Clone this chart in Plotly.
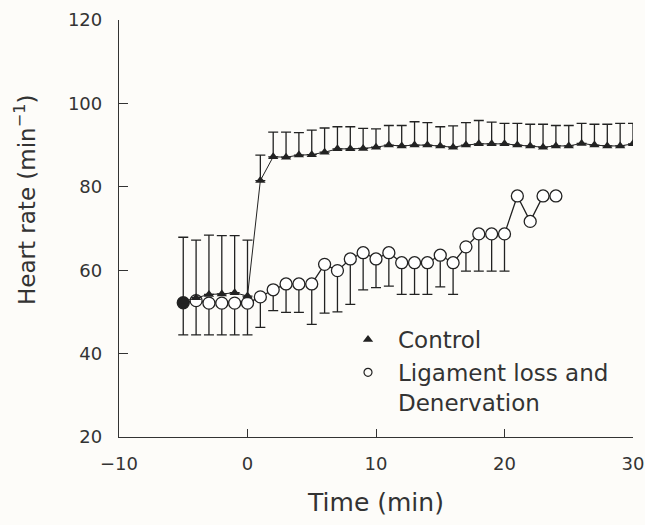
import plotly.graph_objects as go

# ---- data ----
control_time = list(range(-5, 31))
control_hr = [52.5, 53.4, 54.2, 54.3, 54.6, 53.8, 81.5, 87.2, 87.1, 87.6, 87.7, 88.3,
              89.1, 89.1, 89.2, 89.5, 90.0, 89.8, 90.0, 90.0, 89.8, 89.5, 90.0, 90.3,
              90.3, 90.3, 90.0, 89.8, 89.5, 89.8, 89.8, 90.4, 90.0, 89.8, 89.8, 90.3]
control_sem = [15.4, 13.8, 14.2, 14.0, 13.7, 13.4, 6.1, 5.9, 6.0, 5.4, 5.9, 5.8,
               5.3, 5.3, 4.8, 4.4, 4.7, 4.9, 5.6, 5.4, 4.6, 5.1, 5.4, 5.6,
               5.2, 4.9, 5.2, 5.2, 5.5, 4.9, 4.9, 4.8, 5.0, 5.2, 5.4, 4.9]

lig_time = list(range(-5, 25))
lig_hr = [52.2, 52.7, 52.1, 52.1, 52.1, 52.1, 53.6, 55.3, 56.7, 56.7, 56.7, 61.4,
          59.9, 62.7, 64.2, 62.7, 64.2, 61.8, 61.8, 61.8, 63.6, 61.8, 65.6, 68.7,
          68.7, 68.7, 77.8, 71.7, 77.8, 77.8]
lig_sem = [7.7, 8.2, 7.6, 7.6, 7.6, 7.6, 7.3, 5.0, 6.8, 6.8, 9.7, 11.7,
           9.9, 10.9, 8.9, 6.9, 8.0, 7.6, 7.6, 7.6, 7.6, 7.6, 5.8, 8.9,
           8.9, 8.9, 0, 0, 0, 0]

x_ticks = [-10, 0, 10, 20, 30]
y_ticks = [20, 40, 60, 80, 100, 120]

INK = "#222222"
TXT = "#333333"
FONT = "DejaVu Sans"

W, H = 645, 525
ML, MR, MT, MB = 119, 12, 20, 88
PW, PH = W - ML - MR, H - MT - MB

fig = go.Figure()

# Ligament loss and denervation (open circles, downward SEM)
fig.add_trace(go.Scatter(
    x=lig_time, y=lig_hr, mode="lines+markers", showlegend=False,
    line=dict(color=INK, width=1.3),
    marker=dict(symbol="circle", size=12,
                color=[INK] + ["white"] * (len(lig_hr) - 1),
                line=dict(color=INK, width=1.3)),
    error_y=dict(type="data", symmetric=False, array=[0] * len(lig_sem),
                 arrayminus=lig_sem, color=INK, thickness=1.3, width=5),
))

# Control (filled triangles, upward SEM)
fig.add_trace(go.Scatter(
    x=control_time, y=control_hr, mode="lines+markers", showlegend=False,
    line=dict(color=INK, width=1),
    marker=dict(symbol="triangle-up", size=9, color=INK),
    error_y=dict(type="data", symmetric=False, array=control_sem,
                 arrayminus=[0] * len(control_sem), color=INK, thickness=1.3, width=5),
))

# legend entries (markers only, as in the reference)
fig.add_trace(go.Scatter(x=[None], y=[None], mode="markers", name="Control",
                         marker=dict(symbol="triangle-up", size=9, color=INK)))
fig.add_trace(go.Scatter(x=[None], y=[None], mode="markers",
                         name="Ligament loss and<br>Denervation",
                         marker=dict(symbol="circle-open", size=8, color=INK,
                                     line=dict(width=1.2))))

fig.update_layout(
    width=W, height=H,
    margin=dict(l=ML, r=MR, t=MT, b=MB, autoexpand=False),
    paper_bgcolor="#fdfcf9", plot_bgcolor="#fdfcf9",
    font=dict(family=FONT, color=TXT, size=18),
    legend=dict(x=(338 - ML) / PW, y=(MT + PH - 318) / PH, xanchor="left", yanchor="top",
                bgcolor="rgba(0,0,0,0)", itemwidth=50, valign="top",
                font=dict(family=FONT, size=23, color=TXT),
                traceorder="normal"),
    xaxis=dict(range=[-10, 30], tickvals=x_ticks, showline=True, linecolor=TXT,
               linewidth=1.3, ticks="inside", ticklen=8, tickwidth=1.3, tickcolor=TXT,
               showgrid=False, zeroline=False, ticklabelstandoff=10, automargin=False,
               ticklabeloverflow="allow",
               title=dict(text="Time (min)", font=dict(size=25), standoff=20)),
    yaxis=dict(range=[20, 120], tickvals=y_ticks, showline=True, linecolor=TXT,
               linewidth=1.3, ticks="inside", ticklen=9, tickwidth=1.3, tickcolor=TXT,
               showgrid=False, zeroline=False, ticklabelstandoff=12, automargin=False),
    annotations=[dict(text="Heart rate (min<sup>−1</sup>)", textangle=-90,
                      xref="paper", yref="paper", x=(25 - ML) / PW,
                      y=(MT + PH - 200) / PH, xanchor="center", yanchor="middle",
                      showarrow=False, font=dict(family=FONT, size=23, color=TXT))],
)

fig.write_html(
    "out.html",
    config={"displayModeBar": False},
    post_script="document.body.style.margin='0';document.body.style.overflow='hidden';"
                "document.documentElement.style.overflow='hidden';",
)
